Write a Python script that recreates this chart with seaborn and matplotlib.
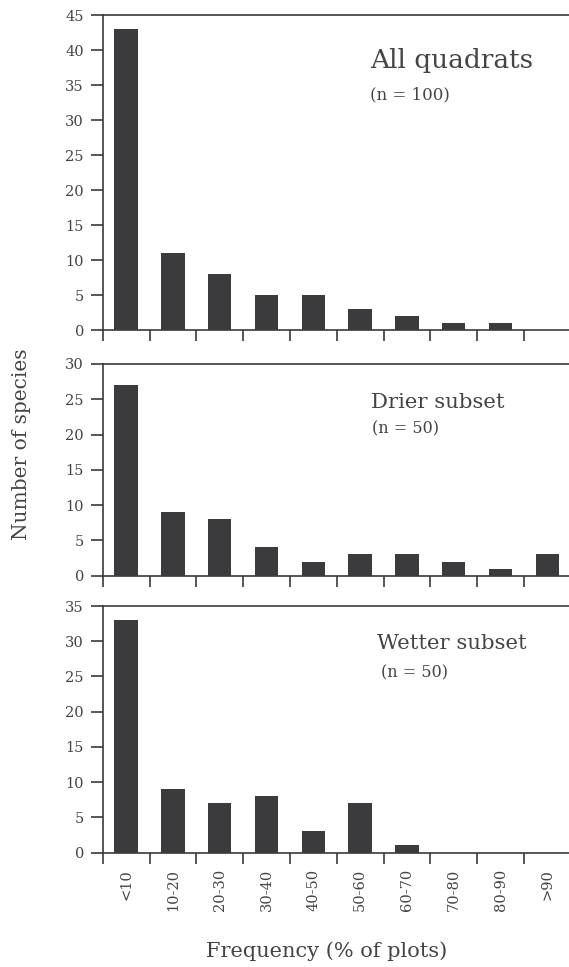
import numpy as np
import pandas as pd
import matplotlib
matplotlib.use("Agg")
import matplotlib.pyplot as plt
import seaborn as sns

categories = ["<10", "10-20", "20-30", "30-40", "40-50", "50-60", "60-70", "70-80", "80-90", ">90"]
all_quadrats = [43, 11, 8, 5, 5, 3, 2, 1, 1, 0]
drier_subset = [27, 9, 8, 4, 2, 3, 3, 2, 1, 3]
wetter_subset = [33, 9, 7, 8, 3, 7, 1, 0, 0, 0]

panel_titles = ["All quadrats", "Drier subset", "Wetter subset"]
panel_ns = ["(n = 100)", "(n = 50)", "(n = 50)"]
y_maxes = [45, 30, 35]

sns.set_style("ticks")
plt.rcParams["font.family"] = ["DejaVu Serif"]
TXT = "#444444"
SPINE = "#3a3a3a"
BAR = "#3b3b3d"

fig = plt.figure(figsize=(5.69, 9.67), dpi=100)
left, width = 0.1805, 0.8225
positions = [
    [left, 0.6587, width, 0.3257],
    [left, 0.4047, width, 0.2189],
    [left, 0.1184, width, 0.2549],
]
series = [all_quadrats, drier_subset, wetter_subset]
title_pos = [(5.21, 37.4, 19), (5.24, 23.7, 15.3), (5.36, 28.9, 15.3)]
n_pos = [(5.21, 32.9, 12), (5.26, 20.2, 11.5), (5.45, 24.8, 11.5)]

for i, (pos, vals) in enumerate(zip(positions, series)):
    ax = fig.add_axes(pos)
    df = pd.DataFrame({"freq": categories, "count": vals})
    sns.barplot(data=df, x="freq", y="count", order=categories, color=BAR,
                saturation=1, width=0.5, ax=ax, edgecolor="none")
    ax.set_xlim(-0.5, 9.5)
    ax.set_ylim(0, y_maxes[i])
    ax.set_yticks(np.arange(0, y_maxes[i] + 1, 5))
    ax.set_xlabel("")
    ax.set_ylabel("")
    for s in ["left", "bottom", "top"]:
        ax.spines[s].set_visible(True)
        ax.spines[s].set_color(SPINE)
        ax.spines[s].set_linewidth(1.2)
    ax.spines["right"].set_visible(False)
    ax.set_xticks(range(len(categories)))
    ax.set_xticks(np.arange(-0.5, 9.5, 1), minor=True)
    ax.tick_params(axis="x", which="major", length=0, pad=12,
                   labelsize=10.5, labelcolor=TXT)
    ax.tick_params(axis="x", which="minor", length=8, width=1.2, color=SPINE,
                   direction="out")
    ax.tick_params(axis="y", which="major", length=8.5, width=1.2, color=SPINE,
                   pad=5, labelsize=10.5, labelcolor=TXT)
    if i < 2:
        ax.set_xticklabels([])
    else:
        ax.set_xticklabels(categories, rotation=90, va="top", ha="center")
    tx, ty, ts = title_pos[i]
    ax.text(tx, ty, panel_titles[i], fontsize=ts, color=TXT, va="baseline", ha="left")
    nx, ny, ns = n_pos[i]
    ax.text(nx, ny, panel_ns[i], fontsize=ns, color=TXT, va="baseline", ha="left")

fig.text(0.037, 0.541, "Number of species", rotation=90, fontsize=14.5,
         color=TXT, va="center", ha="center")
fig.text(0.574, 0.0105, "Frequency (% of plots)", fontsize=15, color=TXT,
         va="baseline", ha="center")

fig.savefig("out.png", dpi=100)
